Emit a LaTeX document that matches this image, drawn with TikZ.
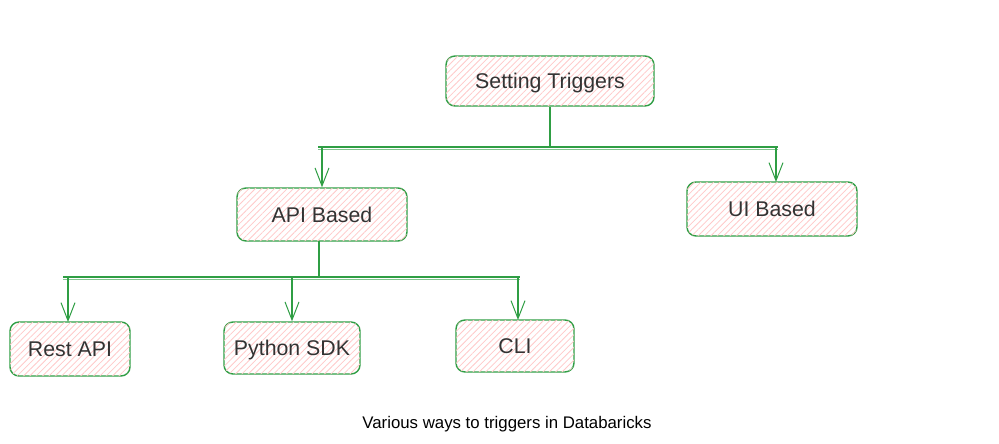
\documentclass[tikz,border=0pt]{standalone}
\usepackage{fontspec}
\setmainfont{Liberation Sans}
\usetikzlibrary{patterns.meta,arrows.meta}
\definecolor{edge}{HTML}{2F9E44}
\definecolor{hatch}{HTML}{FFC9C9}
\definecolor{ink}{HTML}{333333}
\tikzset{
  box/.style={draw=edge, line width=1.4pt, rounded corners=9pt, fill=white,
    postaction={pattern={Lines[angle=45,distance=4.5pt,line width=0.8pt]}, pattern color=hatch},
    text=ink, font=\fontsize{21.3}{25}\selectfont, inner sep=0pt, anchor=center,
    text height=15pt, text depth=0pt},
  conn/.style={draw=edge, line width=1.1pt},
  arr/.style={conn, -{Straight Barb[length=18pt,width=14pt,line width=1pt]}},
}
\begin{document}
\begin{tikzpicture}[x=1pt,y=-1pt]
\useasboundingbox (0,0) rectangle (999,444);
\node[box, minimum width=208pt, minimum height=50pt] (st) at (550,81) {Setting Triggers};
\node[box, minimum width=170pt, minimum height=53pt] (api) at (322,214.5) {API Based};
\node[box, minimum width=170pt, minimum height=54pt] (ui) at (772,209) {UI Based};
\node[box, minimum width=120pt, minimum height=54pt] (rest) at (70,349) {Rest API};
\node[box, minimum width=136pt, minimum height=52pt] (py) at (292,348) {Python SDK};
\node[box, minimum width=118pt, minimum height=52pt] (cli) at (515,346) {CLI};
\node[text=black, font=\fontsize{16.8}{20}\selectfont] (cap) at (507,424) {Various ways to triggers in Databaricks};
% top level bar
\coordinate (b1) at (550,147);
\coordinate (b1l) at (318,147);
\coordinate (b1r) at (778,147);
\draw[conn] (st.south) -- (b1);
\draw[conn] (b1l) -- (b1r);
\draw[conn, line width=0.7pt, edge!60] ([yshift=-2]b1l) -- ([yshift=-2]b1r);
\draw[arr] (322,147) -- (api.north);
\draw[arr] (776,147) -- (776,182);
% second level bar
\coordinate (b2) at (319,277);
\coordinate (b2l) at (63,277);
\coordinate (b2r) at (520,277);
\draw[conn] (319,241) -- (b2);
\draw[conn] (b2l) -- (b2r);
\draw[conn, line width=0.7pt, edge!60] ([yshift=-2]b2l) -- ([yshift=-2]b2r);
\draw[arr] (68,277) -- (68,322);
\draw[arr] (292,277) -- (py.north);
\draw[arr] (518,277) -- (518,320);
\end{tikzpicture}
\end{document}
